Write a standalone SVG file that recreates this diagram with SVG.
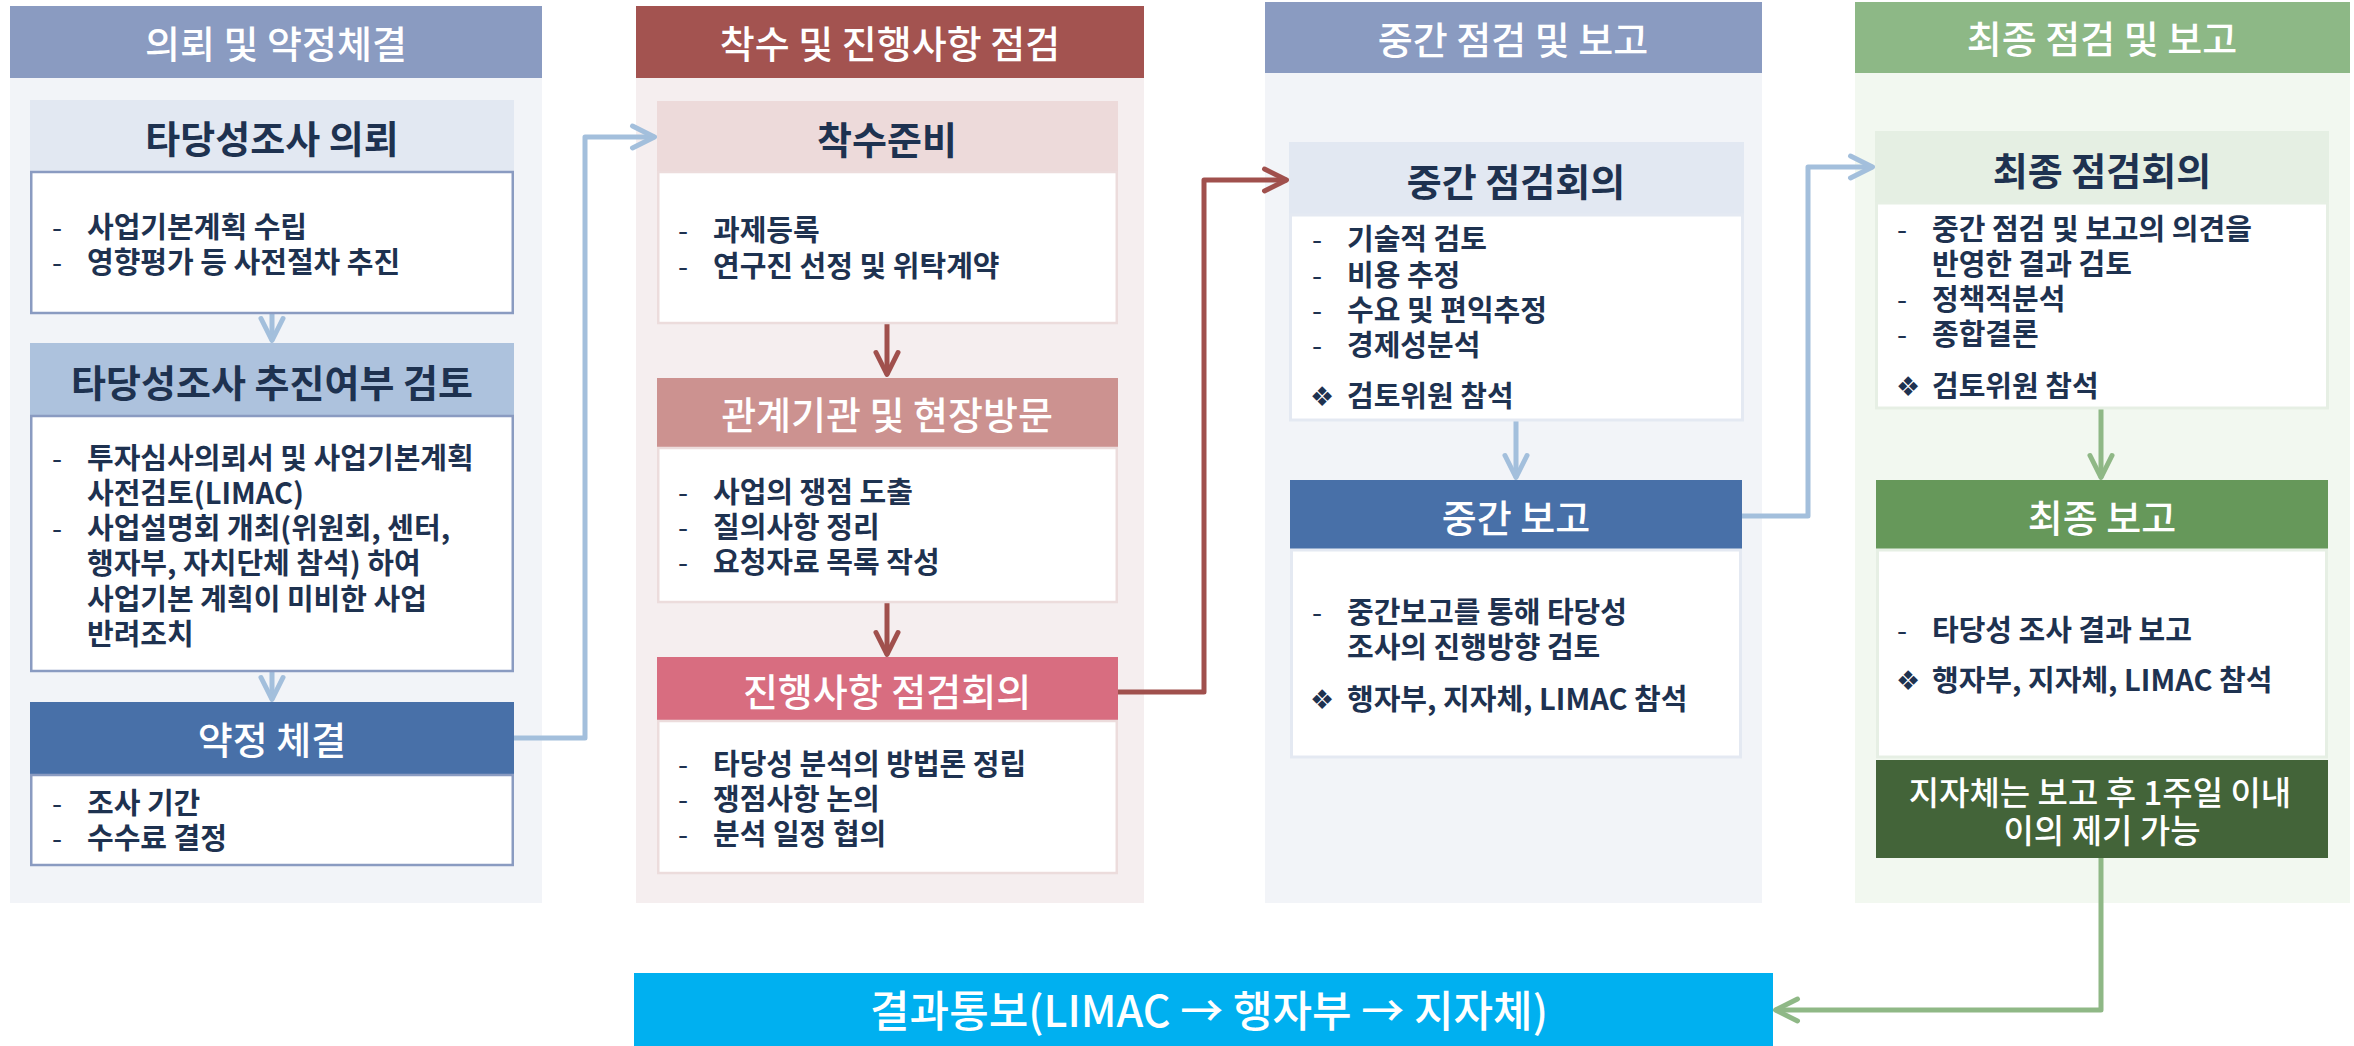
<svg xmlns="http://www.w3.org/2000/svg" width="2354" height="1046" viewBox="0 0 2354 1046">
<defs>
<style>
text{font-family:"Noto Sans CJK KR","Noto Sans CJK SC",sans-serif}
.hdr{font-size:38px;fill:#fff;text-anchor:middle;font-weight:500}
.ttl{font-size:38px;fill:#1e3250;text-anchor:middle;font-weight:700}
.wttl{font-size:38px;fill:#fff;text-anchor:middle;font-weight:500}
.bl{font-size:29px;fill:#1e3250;font-weight:700}
.dash{font-weight:400}
.dia{font-family:"DejaVu Sans",sans-serif;font-size:27px;font-weight:400}
.note{font-size:33px;fill:#fff;text-anchor:middle;font-weight:500}
.bar{font-size:43px;fill:#fff;text-anchor:middle;font-weight:500}
.wb1{fill:#fff;stroke:#8a9bc1;stroke-width:2.5}
.wb2{fill:#fff;stroke:#ecdcdc;stroke-width:2.5}
.wb3{fill:#fff;stroke:#e4e9f2;stroke-width:3}
.wb4{fill:#fff;stroke:#e6efe4;stroke-width:3}
.cb{fill:none;stroke:#a3bfdc;stroke-width:5;stroke-linejoin:round}
.cr{fill:none;stroke:#a0504d;stroke-width:5;stroke-linejoin:round}
.cg{fill:none;stroke:#8fb886;stroke-width:5;stroke-linejoin:round}
</style>
<marker id="ab" viewBox="-26 -14 30 28" markerWidth="30" markerHeight="28" refX="0" refY="0" orient="auto" markerUnits="userSpaceOnUse"><path d="M-22,-11 L0,0 L-22,11" fill="none" stroke="#a3bfdc" stroke-width="5" stroke-linecap="round" stroke-linejoin="round"/></marker>
<marker id="ar" viewBox="-26 -14 30 28" markerWidth="30" markerHeight="28" refX="0" refY="0" orient="auto" markerUnits="userSpaceOnUse"><path d="M-22,-11 L0,0 L-22,11" fill="none" stroke="#a0504d" stroke-width="5" stroke-linecap="round" stroke-linejoin="round"/></marker>
<marker id="ag" viewBox="-26 -14 30 28" markerWidth="30" markerHeight="28" refX="0" refY="0" orient="auto" markerUnits="userSpaceOnUse"><path d="M-22,-11 L0,0 L-22,11" fill="none" stroke="#8fb886" stroke-width="5" stroke-linecap="round" stroke-linejoin="round"/></marker>
</defs>
<rect width="2354" height="1046" fill="#fff"/>

<g id="col1">
<rect x="10" y="6" width="532" height="72" fill="#8a9bc1"/>
<rect x="10" y="78" width="532" height="825" fill="#f2f4f8"/>
<text class="hdr" x="276" y="58">의뢰 및 약정체결</text>
</g>
<g id="col2">
<rect x="636" y="6" width="508" height="72" fill="#a35350"/>
<rect x="636" y="78" width="508" height="825" fill="#f5eeef"/>
<text class="hdr" x="890" y="58">착수 및 진행사항 점검</text>
</g>
<g id="col3">
<rect x="1265" y="2" width="497" height="71" fill="#8a9bc1"/>
<rect x="1265" y="73" width="497" height="830" fill="#f2f4f8"/>
<text class="hdr" x="1513" y="54">중간 점검 및 보고</text>
</g>
<g id="col4">
<rect x="1855" y="2" width="495" height="71" fill="#8db886"/>
<rect x="1855" y="73" width="495" height="830" fill="#f2f8f0"/>
<text class="hdr" x="2102" y="53">최종 점검 및 보고</text>
</g>

<g id="connectors">
<path class="cb" d="M272,313 V340.5" marker-end="url(#ab)"/>
<path class="cb" d="M272,671 V699.5" marker-end="url(#ab)"/>
<path class="cb" d="M514,738 H585 V137 H654.5" marker-end="url(#ab)"/>
<path class="cr" d="M887,323 V374.5" marker-end="url(#ar)"/>
<path class="cr" d="M887,602 V654.5" marker-end="url(#ar)"/>
<path class="cr" d="M1118,692 H1204 V180 H1286.5" marker-end="url(#ar)"/>
<path class="cb" d="M1516,421 V477.5" marker-end="url(#ab)"/>
<path class="cb" d="M1742,516 H1808 V167 H1872.5" marker-end="url(#ab)"/>
<path class="cg" d="M2101,408 V477.5" marker-end="url(#ag)"/>
<path class="cg" d="M2101,858 V1010 H1775.5" marker-end="url(#ag)"/>
</g>

<g id="n1">
<rect x="30" y="100" width="484" height="72" fill="#e2e8f2"/>
<text class="ttl" x="272" y="153">타당성조사 의뢰</text>
<rect class="wb1" x="31.25" y="172" width="481.5" height="141"/>
<text class="bl"><tspan class="dash" x="52" y="238">-</tspan><tspan x="87" y="238">사업기본계획 수립</tspan><tspan class="dash" x="52" y="273">-</tspan><tspan x="87" y="273">영향평가 등 사전절차 추진</tspan></text>
</g>
<g id="n2">
<rect x="30" y="343" width="484" height="73" fill="#adc2dd"/>
<text class="ttl" x="272" y="397">타당성조사 추진여부 검토</text>
<rect class="wb1" x="31.25" y="416" width="481.5" height="255"/>
<text class="bl"><tspan class="dash" x="52" y="469">-</tspan><tspan x="87" y="469">투자심사의뢰서 및 사업기본계획</tspan><tspan x="87" y="504">사전검토(LIMAC)</tspan><tspan class="dash" x="52" y="539">-</tspan><tspan x="87" y="539">사업설명회 개최(위원회, 센터,</tspan><tspan x="87" y="574">행자부, 자치단체 참석) 하여</tspan><tspan x="87" y="610">사업기본 계획이 미비한 사업</tspan><tspan x="87" y="645">반려조치</tspan></text>
</g>
<g id="n3">
<rect x="30" y="702" width="484" height="73" fill="#4870a8"/>
<text class="wttl" x="272" y="754">약정 체결</text>
<rect class="wb1" x="31.25" y="775" width="481.5" height="90"/>
<text class="bl"><tspan class="dash" x="52" y="814">-</tspan><tspan x="87" y="814">조사 기간</tspan><tspan class="dash" x="52" y="849">-</tspan><tspan x="87" y="849">수수료 결정</tspan></text>
</g>

<g id="n4">
<rect x="657" y="101" width="461" height="71" fill="#eddada"/>
<text class="ttl" x="887" y="154">착수준비</text>
<rect class="wb2" x="658.25" y="172" width="458.5" height="151"/>
<text class="bl"><tspan class="dash" x="678" y="241">-</tspan><tspan x="713" y="241">과제등록</tspan><tspan class="dash" x="678" y="277">-</tspan><tspan x="713" y="277">연구진 선정 및 위탁계약</tspan></text>
</g>
<g id="n5">
<rect x="657" y="378" width="461" height="70" fill="#cc9290"/>
<text class="wttl" x="887" y="429">관계기관 및 현장방문</text>
<rect class="wb2" x="658.25" y="448" width="458.5" height="154"/>
<text class="bl"><tspan class="dash" x="678" y="503">-</tspan><tspan x="713" y="503">사업의 쟁점 도출</tspan><tspan class="dash" x="678" y="538">-</tspan><tspan x="713" y="538">질의사항 정리</tspan><tspan class="dash" x="678" y="573">-</tspan><tspan x="713" y="573">요청자료 목록 작성</tspan></text>
</g>
<g id="n6">
<rect x="657" y="657" width="461" height="64" fill="#d86d80"/>
<text class="wttl" x="887" y="706">진행사항 점검회의</text>
<rect class="wb2" x="658.25" y="721" width="458.5" height="152"/>
<text class="bl"><tspan class="dash" x="678" y="775">-</tspan><tspan x="713" y="775">타당성 분석의 방법론 정립</tspan><tspan class="dash" x="678" y="810">-</tspan><tspan x="713" y="810">쟁점사항 논의</tspan><tspan class="dash" x="678" y="845">-</tspan><tspan x="713" y="845">분석 일정 협의</tspan></text>
</g>

<g id="n7">
<rect x="1289" y="142" width="455" height="73" fill="#e2e8f2"/>
<text class="ttl" x="1516" y="196">중간 점검회의</text>
<rect class="wb3" x="1290.5" y="215" width="452" height="205"/>
<text class="bl"><tspan class="dash" x="1312" y="250">-</tspan><tspan x="1347" y="250">기술적 검토</tspan><tspan class="dash" x="1312" y="286">-</tspan><tspan x="1347" y="286">비용 추정</tspan><tspan class="dash" x="1312" y="321">-</tspan><tspan x="1347" y="321">수요 및 편익추정</tspan><tspan class="dash" x="1312" y="356">-</tspan><tspan x="1347" y="356">경제성분석</tspan><tspan class="dia" x="1310" y="406">❖</tspan><tspan x="1347" y="407">검토위원 참석</tspan></text>
</g>
<g id="n8">
<rect x="1290" y="480" width="452" height="70" fill="#4870a8"/>
<text class="wttl" x="1516" y="532">중간 보고</text>
<rect class="wb3" x="1291.5" y="550" width="449" height="207"/>
<text class="bl"><tspan class="dash" x="1312" y="623">-</tspan><tspan x="1347" y="623">중간보고를 통해 타당성</tspan><tspan x="1347" y="658">조사의 진행방향 검토</tspan><tspan class="dia" x="1310" y="709">❖</tspan><tspan x="1347" y="710">행자부, 지자체, LIMAC 참석</tspan></text>
</g>

<g id="n9">
<rect x="1875" y="131" width="454" height="72" fill="#e5efe3"/>
<text class="ttl" x="2102" y="185">최종 점검회의</text>
<rect class="wb4" x="1876.5" y="203" width="451" height="205"/>
<text class="bl"><tspan class="dash" x="1897" y="240">-</tspan><tspan x="1932" y="240">중간 점검 및 보고의 의견을</tspan><tspan x="1932" y="275">반영한 결과 검토</tspan><tspan class="dash" x="1897" y="310">-</tspan><tspan x="1932" y="310">정책적분석</tspan><tspan class="dash" x="1897" y="345">-</tspan><tspan x="1932" y="345">종합결론</tspan><tspan class="dia" x="1896" y="396">❖</tspan><tspan x="1932" y="397">검토위원 참석</tspan></text>
</g>
<g id="n10">
<rect x="1876" y="480" width="452" height="70" fill="#66985a"/>
<text class="wttl" x="2102" y="532">최종 보고</text>
<rect class="wb4" x="1877.5" y="550" width="449" height="207"/>
<text class="bl"><tspan class="dash" x="1897" y="641">-</tspan><tspan x="1932" y="641">타당성 조사 결과 보고</tspan><tspan class="dia" x="1896" y="690">❖</tspan><tspan x="1932" y="691">행자부, 지자체, LIMAC 참석</tspan></text>
</g>
<g id="n11">
<rect x="1876" y="760" width="452" height="98" fill="#436439"/>
<text class="note"><tspan x="2100" y="805">지자체는 보고 후 1주일 이내</tspan><tspan x="2102" y="843">이의 제기 가능</tspan></text>
</g>

<g id="n12">
<rect x="634" y="973" width="1139" height="73" fill="#00b0f0"/>
<text class="bar" x="1209" y="1027">결과통보(LIMAC → 행자부 → 지자체)</text>
</g>
</svg>
